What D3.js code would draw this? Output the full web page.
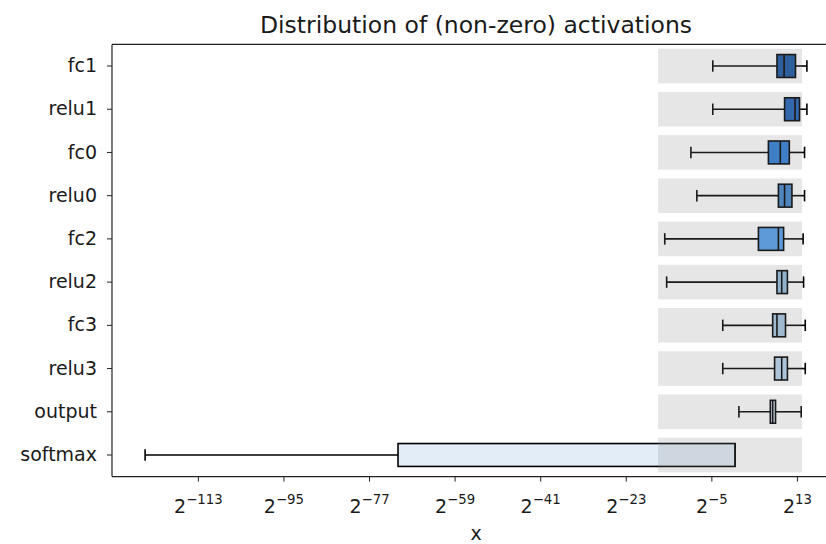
<!DOCTYPE html>
<html>
<head>
<meta charset="utf-8">
<script src="https://cdn.jsdelivr.net/npm/d3@7"></script>
<style>
  html, body { margin: 0; padding: 0; background: #fff; }
  svg { display: block; font-family: "DejaVu Sans", sans-serif; }
</style>
</head>
<body>
<svg id="chart" width="826" height="544"></svg>
<script>
// Activation statistics per layer, as log2 exponents of the (non-zero) values.
const layers    = ["fc1", "relu1", "fc0", "relu0", "fc2", "relu2", "fc3", "relu3", "output", "softmax"];
const whiskerLo = [-4.7, -4.7, -9.3, -8.05, -14.8, -14.4, -2.6, -2.6, 0.8, -124.1];
const q1        = [8.8, 10.4, 7.0, 9.1, 4.9, 8.8, 7.9, 8.3, 7.4, -70.9];
const median    = [10.3, 12.6, 9.5, 10.4, 9.1, 9.8, 8.8, 9.8, 7.9, 0];
const q3        = [12.7, 13.55, 11.4, 11.95, 10.2, 11.0, 10.6, 11.0, 8.5, 0];
const whiskerHi = [15.1, 15.1, 14.6, 14.6, 14.3, 14.4, 14.75, 14.75, 13.9, 0];
const boxColors = ["#1a56a3", "#2162b8", "#2f7fd7", "#4385cc", "#55a0eb",
                   "#94bedf", "#a7c7e4", "#b9d6ef", "#d6e6f4", "#e2edf8"];
// Representable range shaded behind each layer (log2 exponents).
const rangeLo = -16.2;
const rangeHi = 14.05;
// X-axis tick exponents.
const tickExps = [-113, -95, -77, -59, -41, -23, -5, 13];

const pow2 = e => Math.pow(2, e);
const textColor = "#1a1a1a";

const svg = d3.select("#chart");
const margin = { left: 112, top: 44.4, right: 840, bottom: 476.6 };

// Axis domain with a 5% margin around the data extent.
const lo = d3.min(whiskerLo), hi = d3.max(whiskerHi);
const pad = (hi - lo) * 0.05;
const x = d3.scaleLog().base(2)
  .domain([pow2(lo - pad), pow2(hi + pad)])
  .range([margin.left, margin.right]);
const y = d3.scaleBand().domain(layers).range([margin.top, margin.bottom]).padding(0);
const bw = y.bandwidth();

const rows = layers.map((name, i) => ({
  name, lo: whiskerLo[i], q1: q1[i], med: median[i], q3: q3[i], hi: whiskerHi[i], color: boxColors[i]
}));

const plot = svg.append("g");
const cy = d => y(d.name) + bw / 2;
const boxH = bw * 0.53;
const capH = boxH / 2;
const lw = 1.6;

// Whiskers
plot.selectAll("line.wl").data(rows).join("line")
  .attr("x1", d => x(pow2(d.lo))).attr("x2", d => x(pow2(d.q1)))
  .attr("y1", cy).attr("y2", cy)
  .attr("stroke", "#000").attr("stroke-width", lw);
plot.selectAll("line.wh").data(rows).join("line")
  .attr("x1", d => x(pow2(d.q3))).attr("x2", d => x(pow2(d.hi)))
  .attr("y1", cy).attr("y2", cy)
  .attr("stroke", "#000").attr("stroke-width", lw);
// Caps
plot.selectAll("line.cl").data(rows).join("line")
  .attr("x1", d => x(pow2(d.lo))).attr("x2", d => x(pow2(d.lo)))
  .attr("y1", d => cy(d) - capH / 2).attr("y2", d => cy(d) + capH / 2)
  .attr("stroke", "#000").attr("stroke-width", lw);
plot.selectAll("line.ch").data(rows.filter(d => d.hi > d.q3)).join("line")
  .attr("x1", d => x(pow2(d.hi))).attr("x2", d => x(pow2(d.hi)))
  .attr("y1", d => cy(d) - capH / 2).attr("y2", d => cy(d) + capH / 2)
  .attr("stroke", "#000").attr("stroke-width", lw);
// Boxes
plot.selectAll("rect.box").data(rows).join("rect")
  .attr("x", d => x(pow2(d.q1)))
  .attr("width", d => x(pow2(d.q3)) - x(pow2(d.q1)))
  .attr("y", d => cy(d) - boxH / 2).attr("height", boxH)
  .attr("fill", d => d.color).attr("stroke", "#000").attr("stroke-width", lw);
// Medians
plot.selectAll("line.med").data(rows).join("line")
  .attr("x1", d => x(pow2(d.med))).attr("x2", d => x(pow2(d.med)))
  .attr("y1", d => cy(d) - boxH / 2).attr("y2", d => cy(d) + boxH / 2)
  .attr("stroke", "#000").attr("stroke-width", lw);

// Shaded representable range, drawn translucently over each row
plot.selectAll("rect.range").data(rows).join("rect")
  .attr("x", x(pow2(rangeLo)))
  .attr("width", x(pow2(rangeHi)) - x(pow2(rangeLo)))
  .attr("y", d => cy(d) - bw * 0.4).attr("height", bw * 0.8)
  .attr("fill", "#808080").attr("fill-opacity", 0.2);

// Spines
const spines = svg.append("g").attr("stroke", "#222").attr("stroke-width", 1.2).attr("fill", "none");
spines.append("line").attr("x1", margin.left).attr("x2", margin.left)
  .attr("y1", margin.top).attr("y2", margin.bottom);
spines.append("line").attr("x1", margin.left).attr("x2", margin.right)
  .attr("y1", margin.top).attr("y2", margin.top);
spines.append("line").attr("x1", margin.left).attr("x2", margin.right)
  .attr("y1", margin.bottom).attr("y2", margin.bottom);

// Y axis
const yAxis = d3.axisLeft(y).tickSize(5).tickPadding(10);
const yg = svg.append("g").attr("transform", `translate(${margin.left},0)`).call(yAxis);
yg.select(".domain").remove();
yg.selectAll("line").attr("stroke", "#222");
yg.selectAll("text").attr("font-size", 19).attr("font-family", "DejaVu Sans").attr("fill", textColor);

// X axis with 2^n labels
const xAxis = d3.axisBottom(x).tickValues(tickExps.map(pow2)).tickSize(5).tickFormat("");
const xg = svg.append("g").attr("transform", `translate(0,${margin.bottom})`).call(xAxis);
xg.select(".domain").remove();
xg.selectAll("line").attr("stroke", "#222");
xg.selectAll(".tick").each(function (v, i) {
  const e = tickExps[i];
  const t = d3.select(this).append("text")
    .attr("y", 36).attr("text-anchor", "middle")
    .attr("font-size", 19).attr("font-family", "DejaVu Sans").attr("fill", textColor);
  t.append("tspan").text("2");
  t.append("tspan").attr("font-size", 13.3).attr("dy", -8.5)
    .text(e < 0 ? "\u2212" + Math.abs(e) : String(e));
});

// Title and axis label
const cx = (margin.left + margin.right) / 2;
svg.append("text").attr("x", cx).attr("y", 33).attr("text-anchor", "middle")
  .attr("font-size", 23.5).attr("fill", textColor).text("Distribution of (non-zero) activations");
svg.append("text").attr("x", cx).attr("y", 540).attr("text-anchor", "middle")
  .attr("font-size", 19).attr("fill", textColor).text("x");
</script>
</body>
</html>
